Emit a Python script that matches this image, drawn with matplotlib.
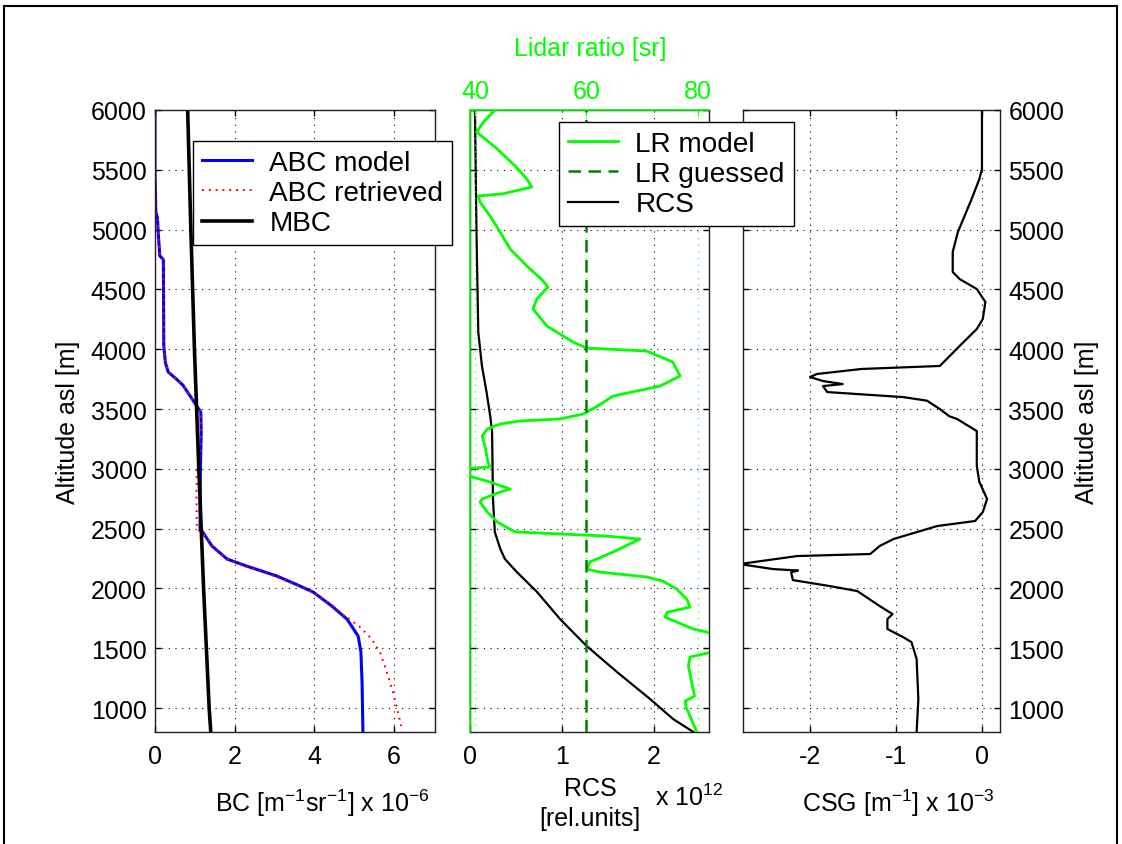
import numpy as np
import matplotlib
matplotlib.use('Agg')
import matplotlib.pyplot as plt
from matplotlib.lines import Line2D

plt.rcParams['font.family'] = ['Liberation Sans', 'DejaVu Sans']
plt.rcParams['mathtext.fontset'] = 'custom'
plt.rcParams['mathtext.rm'] = 'Liberation Sans'
plt.rcParams['mathtext.it'] = 'Liberation Sans:italic'
plt.rcParams['mathtext.default'] = 'regular'
plt.rcParams['axes.unicode_minus'] = False
plt.rcParams['font.size'] = 18

# --- data (altitude in m) ---
abc_alt = [6000, 5500, 5150, 5100, 4980, 4780, 4750, 4030, 3890, 3810, 3750, 3700, 3610,
           3525, 3475, 3300, 3020, 2500, 2470, 2355, 2246, 2187, 2104, 2020, 1970, 1853,
           1744, 1602, 1468, 1200, 800]
abc_model = [0.0, 0.0, 0.02, 0.06, 0.08, 0.12, 0.21, 0.22, 0.26, 0.33, 0.54, 0.70, 0.88,
             1.05, 1.15, 1.16, 1.14, 1.13, 1.20, 1.43, 1.81, 2.30, 3.06, 3.64, 3.97, 4.44,
             4.82, 5.10, 5.17, 5.20, 5.22]

ret_alt = [6000, 5500, 5150, 5100, 4980, 4780, 4750, 4030, 3890, 3810, 3750, 3700, 3610,
           3525, 3475, 3300, 3050, 3000, 2750, 2500, 2440, 2355, 2246, 2187, 2104, 2020,
           1970, 1853, 1800, 1686, 1577, 1468, 1351, 1217, 1075, 967, 850]
abc_retrieved = [0.0, 0.0, 0.02, 0.06, 0.08, 0.12, 0.21, 0.22, 0.26, 0.33, 0.54, 0.70, 0.88,
                 1.05, 1.15, 1.16, 1.12, 1.05, 1.04, 1.05, 1.25, 1.45, 1.80, 2.25, 3.00, 3.62,
                 3.97, 4.47, 4.64, 5.12, 5.44, 5.65, 5.77, 5.90, 6.02, 6.10, 6.18]

mbc_alt = [6000, 5000, 4000, 3000, 2000, 1000, 800]
mbc = [0.82, 0.90, 0.99, 1.10, 1.22, 1.36, 1.40]

rcs_alt = [6000, 5000, 4144, 3860, 3642, 3442, 3308, 2748, 2472, 2330, 2246, 2137, 1970,
           1744, 1518, 1301, 1075, 908, 800]
rcs = [0.054, 0.07, 0.09, 0.13, 0.18, 0.22, 0.24, 0.25, 0.27, 0.33, 0.38, 0.51, 0.73,
       0.98, 1.27, 1.60, 1.96, 2.21, 2.43]

lr_alt = [6000, 5900, 5816, 5674, 5532, 5423, 5356, 5300, 5281, 5231, 5114, 4980, 4838,
          4696, 4587, 4520, 4420, 4336, 4194, 4060, 4010, 3985, 3893, 3776, 3692, 3609,
          3525, 3458, 3417, 3400, 3375, 3333, 3275, 3166, 3057, 3015, 3000, 2932, 2890,
          2831, 2806, 2748, 2723, 2639, 2555, 2480, 2472, 2438, 2413, 2305, 2221, 2162,
          2137, 2096, 2062, 1995, 1911, 1844, 1802, 1761, 1719, 1661, 1636, 1550, 1468,
          1427, 1351, 1100, 1058, 1008, 800]
lr_model = [43.6, 41.5, 40.3, 44.0, 47.2, 49.3, 50.2, 45.0, 40.6, 40.9, 42.7, 44.5, 46.3,
            49.3, 51.9, 53.1, 51.1, 50.4, 52.9, 57.6, 60.0, 70.8, 75.5, 76.8, 73.2, 64.8,
            62.0, 59.4, 55.2, 48.1, 44.5, 42.2, 41.3, 41.9, 42.3, 42.7, 37.5, 39.5, 42.7,
            46.3, 44.5, 41.3, 40.9, 42.2, 44.0, 46.9, 47.5, 63.6, 69.6, 64.8, 60.6, 60.1,
            62.4, 70.8, 73.7, 76.2, 78.0, 78.6, 74.5, 74.1, 76.2, 79.2, 81.6, 85.0, 82.5,
            78.6, 78.3, 79.4, 77.7, 77.9, 79.8]
lr_guessed = 60

csg_alt = [6000, 5732, 5507, 5423, 5256, 4980, 4813, 4646, 4587, 4503, 4395, 4253, 4169,
           4027, 3860, 3835, 3793, 3768, 3734, 3709, 3692, 3642, 3600, 3570, 3500, 3440,
           3417, 3316, 3023, 2890, 2748, 2639, 2564, 2522, 2413, 2355, 2288, 2271, 2204,
           2162, 2150, 2135, 2070, 2020, 1978, 1853, 1786, 1744, 1661, 1594, 1552, 1410,
           1075, 800]
csg = [0.0, 0.0, 0.0, -0.03, -0.12, -0.28, -0.34, -0.34, -0.26, -0.06, 0.04, 0.01, -0.06,
       -0.26, -0.49, -1.40, -1.92, -2.00, -1.85, -1.62, -1.85, -1.80, -0.92, -0.64, -0.49,
       -0.38, -0.29, -0.06, -0.06, -0.03, 0.06, 0.01, -0.08, -0.52, -1.03, -1.19, -1.30,
       -2.15, -2.82, -2.43, -2.14, -2.22, -2.20, -1.77, -1.45, -1.19, -1.04, -1.10, -1.10,
       -0.92, -0.82, -0.76, -0.74, -0.76]

alt_ticks = list(range(1000, 6001, 500))
W, H = 1122, 845
GREEN = (0, 1, 0)
DOT = (0, (1, 5))
FS = 18

fig = plt.figure(figsize=(W / 100, H / 100), dpi=100)


def box(x0, x1, y0=111, y1=733):
    return [x0 / W, 1 - y1 / H, (x1 - x0) / W, (y1 - y0) / H]


def style(ax):
    ax.set_ylim(800, 6000)
    ax.set_yticks(alt_ticks)
    ax.tick_params(direction='in', length=4.5, width=1, labelsize=FS,
                   left=True, right=True, top=True, bottom=True)
    ax.tick_params(axis='y', pad=6)
    ax.tick_params(axis='x', pad=9)
    ax.grid(True, color='k', linestyle=DOT, linewidth=0.8)
    for s in ax.spines.values():
        s.set_linewidth(1)
        s.set_color('#202020')


ax1 = fig.add_axes(box(155, 435))
ax_m = fig.add_axes(box(470, 709))
ax3 = fig.add_axes(box(743, 1000))

# left panel: backscatter coefficients
style(ax1)
l1, = ax1.plot(abc_model, abc_alt, color='b', lw=2.2)
l2, = ax1.plot(abc_retrieved, ret_alt, color='r', lw=1.4, linestyle=(0, (1, 2.5)))
l3, = ax1.plot(mbc, mbc_alt, color='k', lw=2.6)
ax1.set_xlim(0, 7.03)
ax1.set_xticks([0, 2, 4, 6])

# middle panel: RCS and lidar ratio
style(ax_m)
ax_m.tick_params(labelleft=False, top=False)
m3, = ax_m.plot(rcs, rcs_alt, color='k', lw=1.6)
ax_m.set_xlim(0, 2.6)
ax_m.set_xticks([0, 1, 2])

ax2 = ax_m.twiny()
ax2.patch.set_visible(False)
m1, = ax2.plot(lr_model, lr_alt, color=GREEN, lw=2)
m2 = ax2.axvline(lr_guessed, color='#008000', lw=1.8, linestyle=(0, (5, 3)))
ax2.set_xlim(39.1, 82.0)
ax2.set_xticks([40, 60, 80])
ax2.tick_params(axis='x', direction='in', length=4.5, colors=GREEN, labelsize=FS,
                top=True, bottom=False, pad=5)
ax2.xaxis.grid(True, color=GREEN, linestyle=DOT, linewidth=0.8)
ax2.spines['bottom'].set_visible(False)
ax2.spines['right'].set_visible(False)
ax2.spines['left'].set_color(GREEN)
ax2.spines['top'].set_color(GREEN)
ax2.spines['left'].set_linewidth(1.2)
ax2.spines['top'].set_linewidth(1.2)

# right panel: CSG
style(ax3)
ax3.tick_params(labelleft=False, labelright=True)
ax3.plot(csg, csg_alt, color='k', lw=1.6)
ax3.set_xlim(-2.78, 0.21)
ax3.set_xticks([-2, -1, 0])

# legends
leg_kw = dict(loc='upper left', bbox_transform=fig.transFigure, fancybox=False,
              edgecolor='k', framealpha=1, borderaxespad=0, handlelength=1.8,
              handletextpad=0.6, labelspacing=0.15, borderpad=0.32, fontsize=20.2)
lg1 = fig.legend([l1, l2, l3], ['ABC model', 'ABC retrieved', 'MBC'],
                 bbox_to_anchor=(193 / W, 1 - 142 / H), **leg_kw)
lg2 = fig.legend([m1, m2, m3], ['LR model', 'LR guessed', 'RCS'],
                 bbox_to_anchor=(559 / W, 1 - 123 / H), **leg_kw)
for lg in (lg1, lg2):
    lg.get_frame().set_linewidth(1)


# labels
def ftext(x, y, s, **kw):
    fig.text(x / W, 1 - y / H, s, fontsize=FS, **kw)


ftext(68, 422, 'Altitude asl [m]', rotation=90, ha='center', va='center')
ftext(1087, 422, 'Altitude asl [m]', rotation=90, ha='center', va='center')
ftext(590, 56, 'Lidar ratio [sr]', ha='center', va='baseline', color=GREEN)
ftext(215, 812, 'BC [m$^{-1}$sr$^{-1}$] x 10$^{-6}$', ha='left', va='baseline')
ftext(590, 796, 'RCS', ha='center', va='baseline')
ftext(590, 826, '[rel.units]', ha='center', va='baseline')
ftext(655, 806, 'x 10$^{12}$', ha='left', va='baseline')
ftext(802, 812, 'CSG [m$^{-1}$] x 10$^{-3}$', ha='left', va='baseline')

# outer frame
for xs, ys in [((4, 1117), (7, 7)), ((4, 4), (7, 845)), ((1117, 1117), (7, 845))]:
    fig.add_artist(Line2D([x / W for x in xs], [1 - y / H for y in ys],
                          transform=fig.transFigure, color='k', lw=1.5))

fig.savefig('out.png', dpi=100)
